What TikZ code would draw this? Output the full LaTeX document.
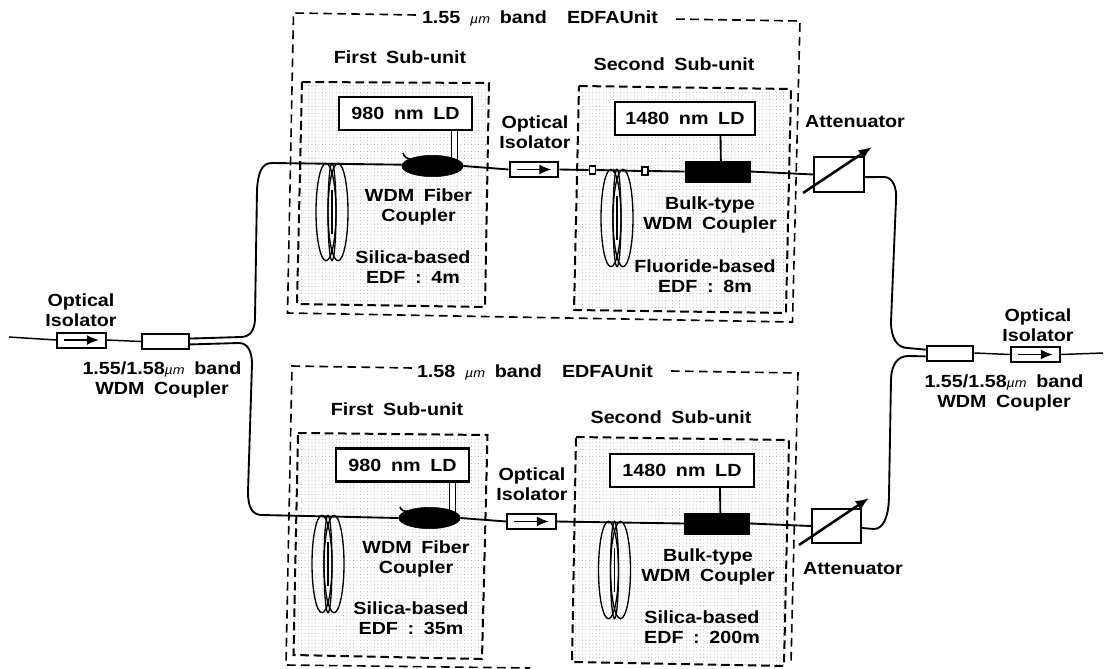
\documentclass[tikz,border=0pt]{standalone}
\usepackage{fontspec}
\setmainfont{Liberation Sans}[FakeStretch=1.12]
\usetikzlibrary{shapes.geometric,arrows.meta,patterns.meta}
\newcommand\lab{\fontsize{13.2}{15}\bfseries\spaceskip=0.55em\relax}
\newcommand\um{{\fontsize{9.5}{9}\mdseries\itshape µm}}
\newcommand\coilshape[2]{%
  \draw[fiber,line width=1pt] (#1-6,#2) ellipse [x radius=7.5pt,y radius=36.5pt];
  \draw[fiber,line width=1pt] (#1+6,#2) ellipse [x radius=7.5pt,y radius=36.5pt];
  \draw[fiber,line width=1pt] (#1,#2) ellipse [x radius=3pt,y radius=36.5pt];
  \draw[line width=1.3pt] (#1,#2-22) -- (#1,#2+22);}
\tikzset{
  lbl/.style={font=\lab,align=center,inner sep=0pt,text=black},
  fiber/.style={draw=black,line width=1.4pt},
  outerdash/.style={draw=black,line width=1.2pt,dash pattern=on 6.5pt off 4pt},
  subunit/.style={draw=black,line width=1.5pt,dash pattern=on 6.5pt off 3.5pt,
    pattern={Dots[distance=2.6pt,radius=.3pt]},pattern color=black!45},
  ldbox/.style={draw=black,line width=1.6pt,fill=white,minimum height=24.75pt,inner sep=0pt,font=\lab},
  isobox/.style={draw=black,line width=1.5pt,fill=white,minimum width=36.5pt,minimum height=11.25pt,inner sep=0pt},
  cplbox/.style={draw=black,line width=1.5pt,fill=white,minimum width=35pt,minimum height=11.25pt,inner sep=0pt},
  atten/.style={draw=black,line width=1.5pt,fill=white,minimum width=37pt,minimum height=26pt,inner sep=0pt},
  wdmfiber/.style={ellipse,fill=black,draw=black,minimum width=46pt,minimum height=16pt,inner sep=0pt},
  bulk/.style={rectangle,fill=black,draw=black,minimum width=49pt,minimum height=15.5pt,inner sep=0pt},
  splice/.style={rectangle,draw=black,line width=1.3pt,fill=white,minimum width=4.5pt,minimum height=6pt,inner sep=0pt},
  isoarrow/.style={line width=1.3pt,-{Latex[length=9pt,width=7.5pt]}},
  attarrow/.style={line width=1.9pt,-{Latex[length=10pt,width=8pt]}},
}
\begin{document}
\begin{tikzpicture}[x=.75pt,y=-.75pt]
\useasboundingbox (0,0) rectangle (1110,668);
% shaded sub-units
\path[subunit] (302,82) -- (489,83) -- (485,307) -- (297,304) -- cycle;
\path[subunit] (579,86) -- (791,89) -- (786,313) -- (574,310) -- cycle;
\path[subunit] (298,433) -- (487.5,435) -- (482,659) -- (293.5,655) -- cycle;
\path[subunit] (576,437) -- (789,440) -- (784,666) -- (572,662) -- cycle;
% outer units
\draw[outerdash] (416,15) -- (293.5,13) -- (287.5,313) -- (792.5,322) -- (800,21) -- (673,19);
\draw[outerdash] (412,368) -- (292,366) -- (286,665) -- (530,668);
\draw[outerdash] (671,371) -- (798,373) -- (791,663);
% components
\node[isobox] (isoIn) at (81.5,340) {};
\node[cplbox] (cplIn) at (165.5,341.5) {};
\node[isobox] (isoOut) at (1035.5,354.5) {};
\node[cplbox] (cplOut) at (950,353) {};
\node[ldbox,minimum width=99.75pt] (ldA) at (405.5,113.5) {980 nm LD};
\node[ldbox,minimum width=105pt] (ldB) at (685,118.5) {1480 nm LD};
\node[ldbox,minimum width=99.75pt] (ldC) at (402.5,465) {980 nm LD};
\node[ldbox,minimum width=108pt] (ldD) at (682,470.5) {1480 nm LD};
% LD feeds
\draw[line width=1.2pt,double=white,double distance=3.2pt] ([xshift=36.75pt]ldA.south) -- (454.5,160);
\draw[line width=1.2pt,double=white,double distance=3.2pt] ([xshift=37.5pt]ldC.south) -- (452.5,512);
\node[wdmfiber] (wdmA) at (432.5,166) {};
\node[wdmfiber] (wdmC) at (429.5,518) {};
\node[bulk] (bulkB) at (717.5,171.5) {};
\node[bulk] (bulkD) at (717,523.5) {};
\node[isobox] (isoA) at (534,169.5) {};
\node[isobox] (isoC) at (531.5,521.5) {};
\node[atten] (attB) at (839,174.5) {};
\node[atten] (attD) at (836.5,526) {};
\node[splice] (spA) at (592.5,170) {};
\node[splice] (spB) at (645,171) {};
% waypoints
\coordinate (u1) at (257,190); \coordinate (u2) at (272,163); \coordinate (u0) at (255,318); \coordinate (u00) at (241,337);
\coordinate (l1) at (252,364); \coordinate (l0) at (239,343); \coordinate (l2) at (248,492); \coordinate (l3) at (262,515);
\coordinate (r1) at (896,200); \coordinate (r0) at (884,177); \coordinate (r2) at (891,322); \coordinate (r3) at (908,348);
\coordinate (s1) at (891,380); \coordinate (s0) at (908,356); \coordinate (s2) at (889,495); \coordinate (s3) at (874,529);
\coordinate (inEnd) at (9,337); \coordinate (outEnd) at (1103,353);
% fibres
\draw[fiber,line width=1.1pt] (inEnd) -- (isoIn.west);
\draw[fiber,line width=1.1pt] (isoIn.east) -- (cplIn.west);
\draw[fiber] ([yshift=2.2pt]cplIn.east) -- (u00) .. controls (250,337) and (255,330) .. (u0) -- (u1) .. controls (258,172) and (262,163) .. (u2) -- ([yshift=1pt]wdmA.west);
\draw[fiber] ([yshift=-2.2pt]cplIn.east) -- (l0) .. controls (248,343) and (252,352) .. (l1) -- (l2) .. controls (248,507) and (252,515) .. (l3) -- (wdmC.west);
\draw[fiber] (wdmA.east) -- (isoA.west);
\draw[fiber] (wdmC.east) -- (isoC.west);
\draw[fiber] (isoA.east) -- (spA.west);
\draw[fiber] (spA.east) -- (spB.west);
\draw[fiber] (spB.east) -- (bulkB.west);
\draw[fiber] (isoC.east) -- (bulkD.west);
\draw[fiber] (bulkB.east) -- (attB.west);
\draw[fiber] (bulkD.east) -- (attD.west);
\draw[fiber] ([yshift=-2pt]attB.east) -- (r0) .. controls (893,177) and (897,188) .. (r1) -- (r2) .. controls (891,338) and (897,348) .. (r3) -- ([yshift=2.5pt]cplOut.west);
\draw[fiber] ([yshift=-1.5pt]attD.east) -- (s3) .. controls (884,529) and (889,515) .. (s2) -- (s1) .. controls (891,366) and (897,356) .. (s0) -- ([yshift=-2.5pt]cplOut.west);
\draw[fiber,line width=1.1pt] (cplOut.east) -- (isoOut.west);
\draw[fiber,line width=1.1pt] (isoOut.east) -- (outEnd);
\draw[fiber] (ldB.south -| bulkB.north) ++(3,0) -- ([xshift=2.5pt]bulkB.north);
\draw[fiber] (ldD.south -| bulkD.north) ++(3,0) -- ([xshift=2.5pt]bulkD.north);
\draw[line width=1.2pt] (403,153) .. controls (404,157) and (407,159) .. (412,159);
\draw[line width=1.2pt] (400,507) .. controls (401,510) and (404,512) .. (408,511);
% coils
\coilshape{332}{212}
\coilshape{617}{218}
\coilshape{328}{564}
\coilshape{614.5}{570}
% isolator arrows
\draw[isoarrow] ([xshift=6pt]isoIn.west) -- ([xshift=-6pt]isoIn.east);
\draw[isoarrow] ([xshift=6pt]isoA.west) -- ([xshift=-6pt]isoA.east);
\draw[isoarrow] ([xshift=6pt]isoC.west) -- ([xshift=-6pt]isoC.east);
\draw[isoarrow] ([xshift=6pt]isoOut.west) -- ([xshift=-6pt]isoOut.east);
% attenuator arrows
\coordinate (aB0) at (803,193); \coordinate (aB1) at (872,147);
\coordinate (aD0) at (799,545); \coordinate (aD1) at (869,498);
\draw[attarrow] (aB0) -- (aB1);
\draw[attarrow] (aD0) -- (aD1);
% labels
\node[lbl] (t1) at (540,18) {1.55 \um{} band\hspace{.6em} EDFAUnit};
\node[lbl] (t2) at (535,372) {1.58 \um{} band\hspace{.6em} EDFAUnit};
\node[lbl] (t3) at (400,57) {First Sub-unit};
\node[lbl] (t4) at (674,64) {Second Sub-unit};
\node[lbl] (t5) at (397,409) {First Sub-unit};
\node[lbl] (t6) at (671,417) {Second Sub-unit};
\node[lbl] (t7) at (535,132) {Optical\\Isolator};
\node[lbl] (t8) at (532,484) {Optical\\Isolator};
\node[lbl] (t9) at (81,310) {Optical\\Isolator};
\node[lbl] (t10) at (1038,325) {Optical\\Isolator};
\node[lbl] (t11) at (162,380) {1.55/1.58\um{} band\\WDM Coupler};
\node[lbl] (t12) at (1004,393) {1.55/1.58\um{} band\\WDM Coupler};
\node[lbl] (t13) at (418.5,207) {WDM Fiber\\Coupler};
\node[lbl] (t14) at (416,558.5) {WDM Fiber\\Coupler};
\node[lbl] (t15) at (413,267) {Silica-based\\EDF : 4m};
\node[lbl] (t16) at (411,618) {Silica-based\\EDF : 35m};
\node[lbl] (t17) at (710,214.5) {Bulk-type\\WDM Coupler};
\node[lbl] (t18) at (708,567) {Bulk-type\\WDM Coupler};
\node[lbl] (t19) at (705,276.5) {Fluoride-based\\EDF : 8m};
\node[lbl] (t20) at (702,627) {Silica-based\\EDF : 200m};
\node[lbl] (t21) at (855,122) {Attenuator};
\node[lbl] (t22) at (853,569) {Attenuator};
\end{tikzpicture}
\end{document}
